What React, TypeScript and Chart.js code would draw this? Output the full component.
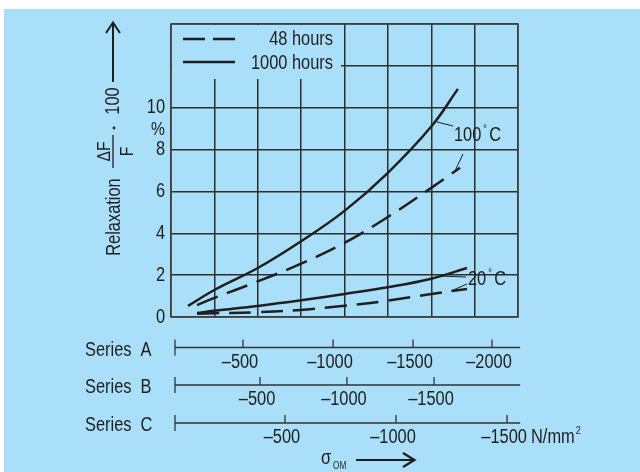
import React, { useEffect, useRef } from "react";
import { Chart, registerables } from "chart.js";

Chart.register(...registerables);

const FONT = "'Liberation Sans', Arial, sans-serif";
const SQUEEZE = 0.82;
const INK = "#1f1f1f";
const BG = "#a9dff8";
const GRID = "#2e2e2e";

// Plot x = stress magnitude (N/mm², Series B scale), y = relaxation %
const hot1000X = [98, 250, 500, 750, 1000, 1250, 1500, 1654];
const hot1000Y = [0.53, 1.29, 2.34, 3.62, 5.07, 6.89, 9.1, 10.9];
const hot48X = [150, 250, 500, 750, 1000, 1250, 1500, 1666];
const hot48Y = [0.57, 0.91, 1.7, 2.55, 3.54, 4.78, 6.17, 7.13];
const cold1000X = [150, 250, 500, 750, 1000, 1250, 1500, 1706];
const cold1000Y = [0.19, 0.3, 0.53, 0.8, 1.1, 1.42, 1.83, 2.34];
const cold48X = [150, 250, 500, 750, 1000, 1250, 1500, 1706];
const cold48Y = [0.16, 0.18, 0.23, 0.34, 0.54, 0.78, 1.1, 1.34];

const yTicks = [0, 2, 4, 6, 8, 10];
const legendLabels = ["48 hours", "1000 hours"];

// secondary stress scales: labels and where they sit on the plot's x scale
const seriesNames = ["Series  A", "Series  B", "Series  C"];
const seriesATicks = [-500, -1000, -1500, -2000];
const seriesAAt = [415, 934, 1395, 1850];
const seriesBTicks = [-500, -1000, -1500];
const seriesBAt = [513, 1014, 1516];
const seriesCTicks = [-500, -1000, -1500];
const seriesCAt = [657, 1297, 1937];

const pts = (xs: number[], ys: number[]) => xs.map((x, i) => ({ x, y: ys[i] }));

const fmt = (v: number) => (v < 0 ? "\u2013" + Math.abs(v) : String(v));

type TOpt = { size?: number; align?: CanvasTextAlign; baseline?: CanvasTextBaseline; rot?: boolean };

function txt(ctx: CanvasRenderingContext2D, s: string, x: number, y: number, o: TOpt = {}) {
  ctx.save();
  ctx.translate(x, y);
  if (o.rot) ctx.rotate(-Math.PI / 2);
  ctx.scale(SQUEEZE, 1);
  ctx.font = `${o.size ?? 20}px ${FONT}`;
  ctx.textAlign = o.align ?? "left";
  ctx.textBaseline = o.baseline ?? "middle";
  ctx.fillStyle = INK;
  ctx.fillText(s, 0, 0);
  ctx.restore();
}

function width(ctx: CanvasRenderingContext2D, s: string, size: number) {
  ctx.save();
  ctx.font = `${size}px ${FONT}`;
  const w = ctx.measureText(s).width * SQUEEZE;
  ctx.restore();
  return w;
}

export default function App() {
  const ref = useRef<HTMLCanvasElement | null>(null);

  useEffect(() => {
    if (!ref.current) return;

    const decor = {
      id: "decor",
      beforeDraw(chart: any) {
        const ctx = chart.ctx;
        ctx.save();
        ctx.fillStyle = "#ffffff";
        ctx.fillRect(0, 0, chart.width, chart.height);
        ctx.fillStyle = BG;
        ctx.fillRect(4, 9, chart.width - 4, chart.height - 9);
        ctx.restore();
      },
      beforeDatasetsDraw(chart: any) {
        const ctx = chart.ctx;
        const a = chart.chartArea;
        ctx.save();
        // legend box (hides grid behind it)
        ctx.fillStyle = BG;
        ctx.fillRect(a.left + 1, a.top + 1, 169, 54);
        // frame
        ctx.strokeStyle = "#444";
        ctx.lineWidth = 1.5;
        ctx.strokeRect(a.left, a.top, a.right - a.left, a.bottom - a.top);
        // legend
        ctx.strokeStyle = INK;
        ctx.lineWidth = 2.5;
        ctx.setLineDash([22, 8]);
        ctx.beginPath();
        ctx.moveTo(183, 39);
        ctx.lineTo(235, 39);
        ctx.stroke();
        ctx.setLineDash([]);
        ctx.beginPath();
        ctx.moveTo(183, 62);
        ctx.lineTo(235, 62);
        ctx.stroke();
        ctx.restore();
        txt(ctx, legendLabels[0], 333, 39, { align: "right" });
        txt(ctx, legendLabels[1], 333, 63, { align: "right" });
      },
      afterDraw(chart: any) {
        const ctx = chart.ctx;
        const xs = chart.scales.x;
        const ys = chart.scales.y;
        const px = (v: number) => xs.getPixelForValue(v);
        ctx.save();
        ctx.fillStyle = INK;
        ctx.strokeStyle = INK;

        // y tick labels
        yTicks.forEach((v) => txt(ctx, String(v), 165, ys.getPixelForValue(v), { align: "right" }));
        txt(ctx, "%", 158, 130, { align: "center", size: 19 });

        // curve labels
        const degLabel = (num: string, x: number, y: number) => {
          txt(ctx, num, x, y);
          const w = width(ctx, num, 20);
          txt(ctx, "\u00b0", x + w + 2, y - 6, { size: 11 });
          txt(ctx, "C", x + w + 8, y);
        };
        degLabel("100", 454, 135);
        degLabel("20", 468, 279);
        ctx.lineWidth = 1;
        ctx.beginPath();
        ctx.moveTo(453, 126);
        ctx.lineTo(437, 122);
        ctx.moveTo(463, 154);
        ctx.lineTo(455, 171);
        ctx.moveTo(466, 277);
        ctx.lineTo(440, 276);
        ctx.moveTo(467, 284);
        ctx.lineTo(451, 291);
        ctx.stroke();

        // y axis title
        txt(ctx, "Relaxation", 114, 217, { align: "center", rot: true });
        txt(ctx, "\u0394F", 110, 151.5, { align: "center", baseline: "alphabetic", rot: true, size: 19 });
        txt(ctx, "F", 133, 151.5, { align: "center", baseline: "alphabetic", rot: true, size: 19 });
        ctx.lineWidth = 1.3;
        ctx.beginPath();
        ctx.moveTo(113, 135);
        ctx.lineTo(113, 168);
        ctx.stroke();
        ctx.beginPath();
        ctx.arc(114, 128, 1.4, 0, Math.PI * 2);
        ctx.fill();
        txt(ctx, "100", 113, 101, { align: "center", rot: true });

        ctx.lineWidth = 2;
        ctx.beginPath();
        ctx.moveTo(113, 82);
        ctx.lineTo(113, 23);
        ctx.stroke();
        ctx.beginPath();
        ctx.moveTo(106, 33);
        ctx.lineTo(113, 22.5);
        ctx.lineTo(120, 33);
        ctx.stroke();

        // secondary stress scales
        const rows = [
          { name: seriesNames[0], ticks: seriesATicks, at: seriesAAt, y: 347.5 },
          { name: seriesNames[1], ticks: seriesBTicks, at: seriesBAt, y: 385 },
          { name: seriesNames[2], ticks: seriesCTicks, at: seriesCAt, y: 423 },
        ];
        rows.forEach((r) => {
          ctx.strokeStyle = "#333";
          ctx.lineWidth = 1.3;
          const x0 = px(23);
          const x1 = px(2012);
          ctx.beginPath();
          ctx.moveTo(x0, r.y);
          ctx.lineTo(x1, r.y);
          ctx.moveTo(x0, r.y - 8);
          ctx.lineTo(x0, r.y + 8);
          r.at.forEach((v) => {
            ctx.moveTo(px(v), r.y - 8);
            ctx.lineTo(px(v), r.y);
          });
          ctx.stroke();
          txt(ctx, r.name, 85, r.y + 2.5);
          r.ticks.forEach((t, i) => {
            txt(ctx, fmt(t), px(r.at[i]) - 3, r.y + 14.5, { align: "center" });
          });
        });

        // unit
        txt(ctx, "N/mm", 531, 437.5);
        const uw = width(ctx, "N/mm", 20);
        txt(ctx, "2", 531 + uw + 1, 431, { size: 11 });

        // sigma arrow
        txt(ctx, "\u03c3", 321, 458);
        txt(ctx, "OM", 333, 466, { size: 10 });
        ctx.strokeStyle = INK;
        ctx.lineWidth = 2.2;
        ctx.beginPath();
        ctx.moveTo(356, 460);
        ctx.lineTo(414, 460);
        ctx.stroke();
        ctx.beginPath();
        ctx.moveTo(403, 453);
        ctx.lineTo(414.5, 460);
        ctx.lineTo(403, 467);
        ctx.stroke();

        ctx.restore();
      },
    };

    const line = (data: any[], dashed: boolean) => ({
      data,
      borderColor: INK,
      borderWidth: 2.5,
      borderDash: dashed ? [22, 10] : [],
      pointRadius: 0,
      fill: false,
      tension: 0.4,
    });

    const chart = new Chart(ref.current, {
      type: "line",
      data: {
        datasets: [
          { label: "1000 hours 100 °C", ...line(pts(hot1000X, hot1000Y), false) },
          { label: "48 hours 100 °C", ...line(pts(hot48X, hot48Y), true) },
          { label: "1000 hours 20 °C", ...line(pts(cold1000X, cold1000Y), false) },
          { label: "48 hours 20 °C", ...line(pts(cold48X, cold48Y), true) },
        ],
      },
      options: {
        responsive: false,
        animation: false,
        devicePixelRatio: 1,
        layout: { padding: { left: 0, top: 24, right: 122, bottom: 0 } },
        plugins: { legend: { display: false }, tooltip: { enabled: false } },
        scales: {
          x: {
            type: "linear",
            min: 0,
            max: 2000,
            ticks: { display: false, stepSize: 250 },
            grid: { color: GRID, lineWidth: 1.5, drawTicks: false },
            border: { display: false },
            afterFit: (s: any) => {
              s.height = 155;
            },
          },
          y: {
            type: "linear",
            min: 0,
            max: 14,
            ticks: { display: false, stepSize: 2 },
            grid: { color: GRID, lineWidth: 1.5, drawTicks: false },
            border: { display: false },
            afterFit: (s: any) => {
              s.width = 171;
            },
          },
        },
      },
      plugins: [decor],
    });

    return () => chart.destroy();
  }, []);

  return (
    <div style={{ position: "absolute", left: 0, top: 0, width: 640, height: 472 }}>
      <canvas ref={ref} width={640} height={472} />
    </div>
  );
}
